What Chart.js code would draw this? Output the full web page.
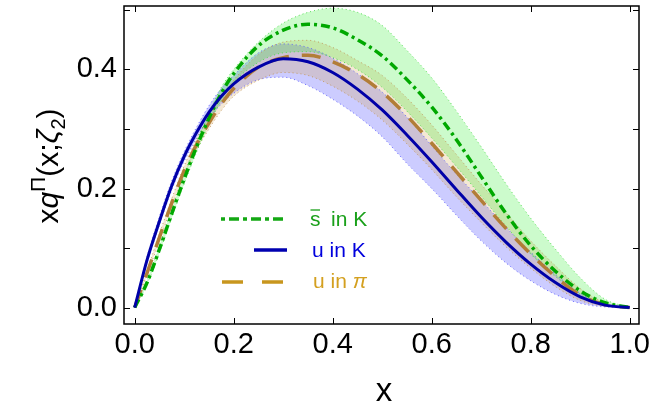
<!DOCTYPE html>
<html>
<head>
<meta charset="utf-8">
<script src="https://cdn.jsdelivr.net/npm/chart.js@4/dist/chart.umd.min.js"></script>
<style>
  html, body { margin: 0; padding: 0; background: #fff; }
</style>
</head>
<body>
<canvas id="pdfChart" width="671" height="411"></canvas>
<script>
// momentum fraction grid
const xs = [0, 0.025, 0.05, 0.075, 0.1, 0.125, 0.15, 0.175, 0.2, 0.25, 0.3, 0.35, 0.4, 0.45, 0.5, 0.55, 0.6, 0.65, 0.7, 0.75, 0.8, 0.85, 0.9, 0.95, 1];

// u in K (blue, solid) with band
const uKaon   = [0, 0.080, 0.145, 0.205, 0.254, 0.294, 0.328, 0.355, 0.376, 0.404, 0.418, 0.413, 0.395, 0.367, 0.332, 0.290, 0.245, 0.198, 0.152, 0.110, 0.073, 0.042, 0.018, 0.004, 0];
const uKaonHi = [0, 0.085, 0.153, 0.213, 0.262, 0.303, 0.339, 0.368, 0.390, 0.428, 0.443, 0.437, 0.419, 0.393, 0.362, 0.320, 0.272, 0.224, 0.180, 0.135, 0.093, 0.056, 0.024, 0.005, 0];
const uKaonLo = [0, 0.075, 0.139, 0.198, 0.246, 0.285, 0.317, 0.342, 0.360, 0.383, 0.387, 0.373, 0.350, 0.322, 0.287, 0.242, 0.200, 0.155, 0.112, 0.075, 0.045, 0.022, 0.007, 0.001, 0];

// s-bar in K (green, dash-dot) with band
const sbarKaon   = [0, 0.042, 0.098, 0.158, 0.216, 0.270, 0.318, 0.360, 0.393, 0.440, 0.466, 0.476, 0.470, 0.450, 0.423, 0.383, 0.337, 0.282, 0.220, 0.158, 0.104, 0.061, 0.028, 0.008, 0];
const sbarKaonHi = [0, 0.046, 0.104, 0.165, 0.224, 0.279, 0.327, 0.370, 0.400, 0.446, 0.478, 0.496, 0.503, 0.496, 0.474, 0.432, 0.386, 0.330, 0.270, 0.208, 0.150, 0.098, 0.050, 0.014, 0];
const sbarKaonLo = [0, 0.038, 0.092, 0.151, 0.208, 0.261, 0.308, 0.348, 0.378, 0.412, 0.428, 0.430, 0.420, 0.400, 0.370, 0.330, 0.285, 0.237, 0.187, 0.137, 0.090, 0.052, 0.022, 0.005, 0];

// u in pi (orange, dashed) with band
const uPion   = [0, 0.058, 0.118, 0.176, 0.230, 0.274, 0.310, 0.342, 0.368, 0.404, 0.420, 0.424, 0.413, 0.392, 0.362, 0.322, 0.276, 0.228, 0.180, 0.133, 0.090, 0.052, 0.021, 0.005, 0];
const uPionHi = [0, 0.062, 0.124, 0.183, 0.238, 0.283, 0.320, 0.353, 0.382, 0.425, 0.446, 0.449, 0.437, 0.415, 0.390, 0.352, 0.307, 0.257, 0.207, 0.160, 0.112, 0.070, 0.032, 0.008, 0];
const uPionLo = [0, 0.055, 0.112, 0.170, 0.223, 0.265, 0.300, 0.331, 0.355, 0.382, 0.395, 0.390, 0.372, 0.347, 0.315, 0.275, 0.232, 0.186, 0.143, 0.102, 0.066, 0.035, 0.012, 0.002, 0];

const xTicks = [0, 0.2, 0.4, 0.6, 0.8, 1.0];
const yTicks = [0, 0.1, 0.2, 0.3, 0.4, 0.5];
const yLabelled = [0, 0.2, 0.4];

const FONT = "'Liberation Sans', Arial, sans-serif";
Chart.defaults.font.family = FONT;

const pts = arr => xs.map((x, i) => ({x: x, y: arr[i]}));

function curve(data, color, width, dash) {
    return {
        data: pts(data), borderColor: color, borderWidth: width, borderDash: dash,
        pointRadius: 0, fill: false, cubicInterpolationMode: 'monotone'
    };
}
function edge(data, color, fillColor) {
    return {
        data: pts(data), borderColor: color, borderWidth: 1, borderDash: [1, 3],
        pointRadius: 0, cubicInterpolationMode: 'monotone',
        fill: fillColor ? '+1' : false, backgroundColor: fillColor || 'transparent'
    };
}

const decorations = {
    id: 'decorations',
    afterDraw(chart) {
        const {ctx, chartArea: a, scales: {x, y}} = chart;
        ctx.save();
        // frame
        ctx.strokeStyle = '#000';
        ctx.lineWidth = 1.5;
        ctx.strokeRect(a.left, a.top, a.right - a.left, a.bottom - a.top);
        // inward ticks on all four sides
        ctx.lineWidth = 1;
        ctx.beginPath();
        xTicks.forEach(v => {
            const p = Math.round(x.getPixelForValue(v)) + 0.5;
            ctx.moveTo(p, a.bottom); ctx.lineTo(p, a.bottom - 6);
            ctx.moveTo(p, a.top); ctx.lineTo(p, a.top + 6);
        });
        yTicks.forEach(v => {
            const p = Math.round(y.getPixelForValue(v)) + 0.5;
            ctx.moveTo(a.left, p); ctx.lineTo(a.left + 6, p);
            ctx.moveTo(a.right, p); ctx.lineTo(a.right - 6, p);
        });
        ctx.stroke();

        // x title
        ctx.fillStyle = '#000';
        ctx.font = '33px ' + FONT;
        ctx.textAlign = 'center';
        ctx.textBaseline = 'alphabetic';
        ctx.fillText('x', 384, 401);

        // y title, rotated
        const parts = [
            {t: 'x', f: '30px ' + FONT, dy: 0},
            {t: 'q', f: 'italic 30px ' + FONT, dy: 0},
            {t: 'Π', f: '21px ' + FONT, dy: -13},
            {t: '(x;', f: '30px ' + FONT, dy: 0},
            {t: 'ζ', f: 'italic 30px ' + FONT, dy: 0},
            {t: '2', f: '20px ' + FONT, dy: 7},
            {t: ')', f: '30px ' + FONT, dy: 0}
        ];
        let total = 0;
        parts.forEach(p => { ctx.font = p.f; p.w = ctx.measureText(p.t).width; total += p.w; });
        ctx.translate(58, 166);
        ctx.rotate(-Math.PI / 2);
        ctx.textAlign = 'left';
        let cx = -total / 2;
        parts.forEach(p => { ctx.font = p.f; ctx.fillText(p.t, cx, p.dy); cx += p.w; });
        ctx.setTransform(1, 0, 0, 1, 0, 0);

        // legend
        ctx.lineCap = 'butt';
        ctx.lineWidth = 3.5;
        ctx.strokeStyle = '#13a813';
        ctx.setLineDash([4, 4, 10, 4]);
        ctx.beginPath(); ctx.moveTo(221, 219); ctx.lineTo(287, 219); ctx.stroke();
        ctx.strokeStyle = '#0000b0';
        ctx.setLineDash([]);
        ctx.beginPath(); ctx.moveTo(254, 250); ctx.lineTo(287, 250); ctx.stroke();
        ctx.strokeStyle = '#c8961e';
        ctx.setLineDash([21, 19]);
        ctx.beginPath(); ctx.moveTo(222, 282); ctx.lineTo(284, 282); ctx.stroke();
        ctx.setLineDash([]);

        ctx.font = '21px ' + FONT;
        ctx.textBaseline = 'middle';
        ctx.textAlign = 'left';
        ctx.fillStyle = '#1aa01a';
        ctx.fillText('s', 310, 220);
        const sw = ctx.measureText('s').width;
        ctx.lineWidth = 1.3;
        ctx.strokeStyle = '#1aa01a';
        ctx.beginPath(); ctx.moveTo(310.5, 210); ctx.lineTo(310 + sw - 0.5, 210); ctx.stroke();
        ctx.fillText('in K', 331, 220);
        ctx.fillStyle = '#0000dd';
        ctx.fillText('u in K', 312, 251);
        ctx.fillStyle = '#d4a020';
        ctx.fillText('u in ', 313, 282);
        const uw = ctx.measureText('u in ').width;
        ctx.font = 'italic 21px ' + FONT;
        ctx.fillText('π', 313 + uw, 282);
        ctx.restore();
    }
};

new Chart(document.getElementById('pdfChart'), {
    type: 'line',
    data: {
        datasets: [
            curve(uKaon, '#0000a8', 3, []),
            curve(sbarKaon, '#00a800', 3.5, [9, 4, 3, 4]),
            curve(uPion, 'rgb(178,125,55)', 3.5, [19, 13]),
            edge(sbarKaonHi, 'rgba(70,220,70,0.9)', 'rgba(0,235,0,0.2)'),
            edge(sbarKaonLo, 'rgba(70,220,70,0.9)'),
            edge(uPionHi, 'rgba(195,150,90,0.9)', 'rgba(205,150,60,0.22)'),
            edge(uPionLo, 'rgba(195,150,90,0.9)'),
            edge(uKaonHi, 'rgba(90,90,255,0.9)', 'rgba(0,0,255,0.2)'),
            edge(uKaonLo, 'rgba(90,90,255,0.9)')
        ]
    },
    options: {
        responsive: false,
        devicePixelRatio: 1,
        animation: false,
        events: [],
        layout: { padding: { top: 6, right: 32, left: 0, bottom: 0 } },
        plugins: {
            legend: { display: false },
            tooltip: { enabled: false },
            filler: { drawTime: 'beforeDatasetsDraw' }
        },
        scales: {
            x: {
                type: 'linear',
                min: -0.0216, max: 1.0188,
                afterFit: s => { s.height = 87; s.paddingLeft = 0; s.paddingRight = 0; },
                afterBuildTicks: s => { s.ticks = xTicks.map(v => ({value: v})); },
                grid: { display: false, drawTicks: false },
                border: { display: false },
                ticks: {
                    color: '#000', font: { size: 29 }, padding: 4,
                    maxRotation: 0, autoSkip: false,
                    callback: v => v.toFixed(1)
                }
            },
            y: {
                type: 'linear',
                min: -0.0277, max: 0.5067,
                afterFit: s => { s.width = 124; s.paddingTop = 0; s.paddingBottom = 0; },
                afterBuildTicks: s => { s.ticks = yTicks.map(v => ({value: v})); },
                grid: { display: false, drawTicks: false },
                border: { display: false },
                ticks: {
                    color: '#000', font: { size: 29 }, padding: 7, autoSkip: false,
                    callback: v => yLabelled.some(t => Math.abs(t - v) < 1e-9) ? v.toFixed(1) : ''
                }
            }
        }
    },
    plugins: [decorations]
});
</script>
</body>
</html>
